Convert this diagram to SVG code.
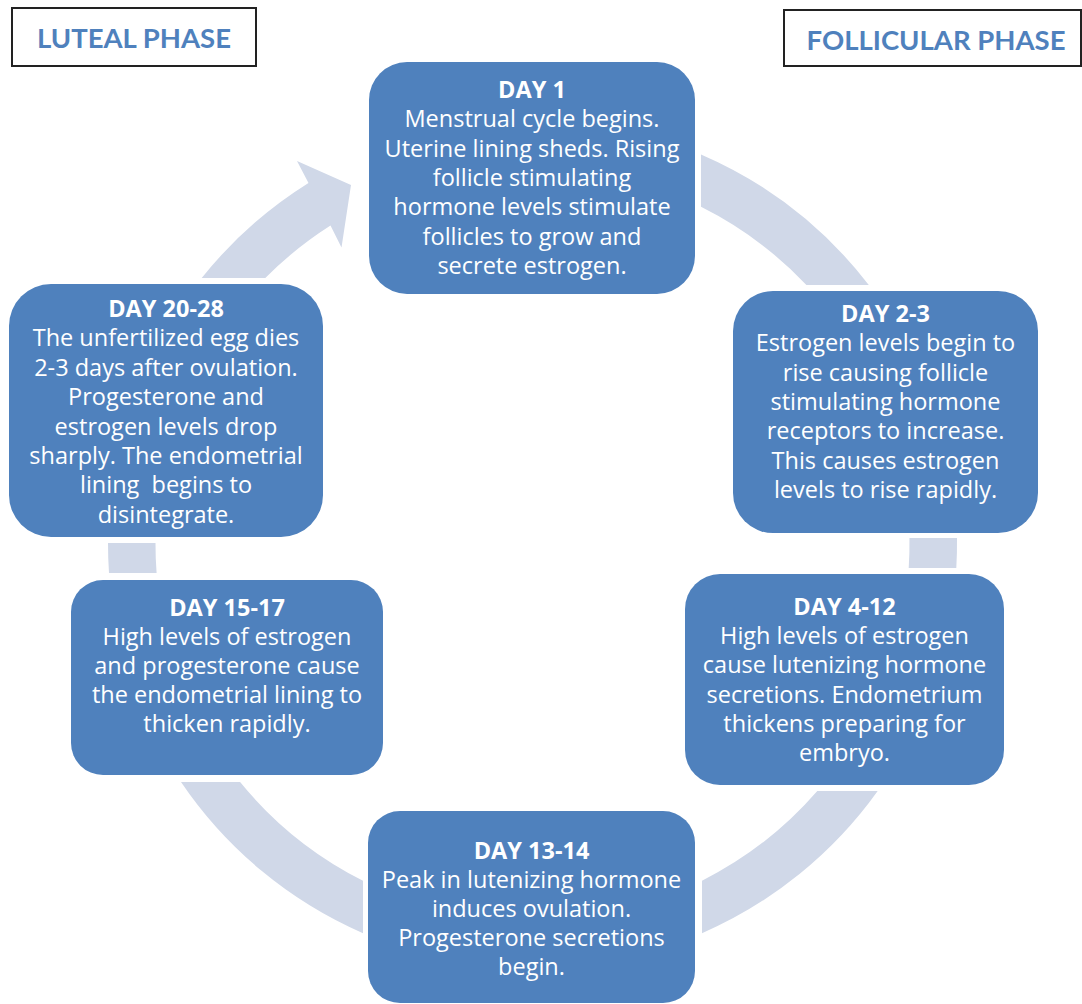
<svg xmlns="http://www.w3.org/2000/svg" width="1082" height="1004" viewBox="0 0 1082 1004">
<style>
.ring{fill:#D0D8E8;stroke:none}
.node rect{fill:#4F81BD;stroke:none}
.node text{fill:#FFFFFF;font-family:"Open Sans","Noto Sans","Liberation Sans",sans-serif;font-size:23.5px;text-anchor:middle}
.node .h{font-weight:bold}
.lbl rect{fill:#FFFFFF;stroke:#222222;stroke-width:2}
.lbl text{fill:#4F81BD;font-family:Lato,"Open Sans","Liberation Sans",sans-serif;font-size:27.5px;font-weight:bold;text-anchor:middle}
</style>
<rect x="0" y="0" width="1082" height="1004" fill="#FFFFFF"/>
<g id="connectors">
<path class="ring" d="M201.7,278 A424.5,424.5 0 0 1 308.5,183 L297,161 L351,185 L341.5,247.5 L330.5,225.5 A377,377 0 0 0 265.3,278 Z"/>
<path class="ring" d="M701,154.4 A424.5,424.5 0 0 1 868.8,285 L806.4,285 A377,377 0 0 0 701,206.8 Z"/>
<path class="ring" d="M957,538 A424.5,424.5 0 0 1 956.3,568 L908.7,568 A377,377 0 0 0 909.45,538 Z"/>
<path class="ring" d="M877.7,791 A424.5,424.5 0 0 1 702,933.2 L702,880.7 A377,377 0 0 0 817.3,791 Z"/>
<path class="ring" d="M363,933.2 A424.5,424.5 0 0 1 181,782 L240.1,782 A377,377 0 0 0 363,880.7 Z"/>
<path class="ring" d="M109,573 A424.5,424.5 0 0 1 108,543 L155.5,543 A377,377 0 0 0 156.6,573 Z"/>
</g>
<g id="label-luteal" class="lbl">
<rect x="12" y="8" width="244" height="58"/>
<text x="134" y="48">LUTEAL PHASE</text>
</g>
<g id="label-follicular" class="lbl">
<rect x="784" y="10" width="297" height="56"/>
<text x="936" y="50">FOLLICULAR PHASE</text>
</g>
<g id="node-day1" class="node">
<rect x="369" y="62" width="326" height="232" rx="38"/>
<text><tspan class="h" x="532" y="98">DAY 1</tspan><tspan x="532" y="127.3">Menstrual cycle begins.</tspan><tspan x="532" y="156.6">Uterine lining sheds. Rising</tspan><tspan x="532" y="185.9">follicle stimulating</tspan><tspan x="532" y="215.2">hormone levels stimulate</tspan><tspan x="532" y="244.5">follicles to grow and</tspan><tspan x="532" y="273.8">secrete estrogen.</tspan></text>
</g>
<g id="node-day2-3" class="node">
<rect x="733" y="291" width="305" height="242" rx="40"/>
<text><tspan class="h" x="885.5" y="322">DAY 2-3</tspan><tspan x="885.5" y="351.3">Estrogen levels begin to</tspan><tspan x="885.5" y="380.6">rise causing follicle</tspan><tspan x="885.5" y="409.9">stimulating hormone</tspan><tspan x="885.5" y="439.2">receptors to increase.</tspan><tspan x="885.5" y="468.5">This causes estrogen</tspan><tspan x="885.5" y="497.8">levels to rise rapidly.</tspan></text>
</g>
<g id="node-day4-12" class="node">
<rect x="685" y="574" width="319" height="211" rx="35"/>
<text><tspan class="h" x="844.5" y="615">DAY 4-12</tspan><tspan x="844.5" y="644.2">High levels of estrogen</tspan><tspan x="844.5" y="673.4">cause lutenizing hormone</tspan><tspan x="844.5" y="702.6">secretions. Endometrium</tspan><tspan x="844.5" y="731.8">thickens preparing for</tspan><tspan x="844.5" y="761">embryo.</tspan></text>
</g>
<g id="node-day13-14" class="node">
<rect x="368" y="811" width="327" height="192" rx="32"/>
<text><tspan class="h" x="531.5" y="859.3">DAY 13-14</tspan><tspan x="531.5" y="888.3">Peak in lutenizing hormone</tspan><tspan x="531.5" y="917.3">induces ovulation.</tspan><tspan x="531.5" y="946.3">Progesterone secretions</tspan><tspan x="531.5" y="975.3">begin.</tspan></text>
</g>
<g id="node-day15-17" class="node">
<rect x="71" y="580" width="312" height="195" rx="32"/>
<text><tspan class="h" x="227" y="616">DAY 15-17</tspan><tspan x="227" y="645">High levels of estrogen</tspan><tspan x="227" y="674">and progesterone cause</tspan><tspan x="227" y="703">the endometrial lining to</tspan><tspan x="227" y="732">thicken rapidly.</tspan></text>
</g>
<g id="node-day20-28" class="node">
<rect x="9" y="284" width="314" height="253" rx="42"/>
<text xml:space="preserve"><tspan class="h" x="166" y="317">DAY 20-28</tspan><tspan x="166" y="346.4">The unfertilized egg dies</tspan><tspan x="166" y="375.8">2-3 days after ovulation.</tspan><tspan x="166" y="405.2">Progesterone and</tspan><tspan x="166" y="434.6">estrogen levels drop</tspan><tspan x="166" y="464">sharply. The endometrial</tspan><tspan x="166" y="493.4">lining  begins to</tspan><tspan x="166" y="522.8">disintegrate.</tspan></text>
</g>
</svg>
